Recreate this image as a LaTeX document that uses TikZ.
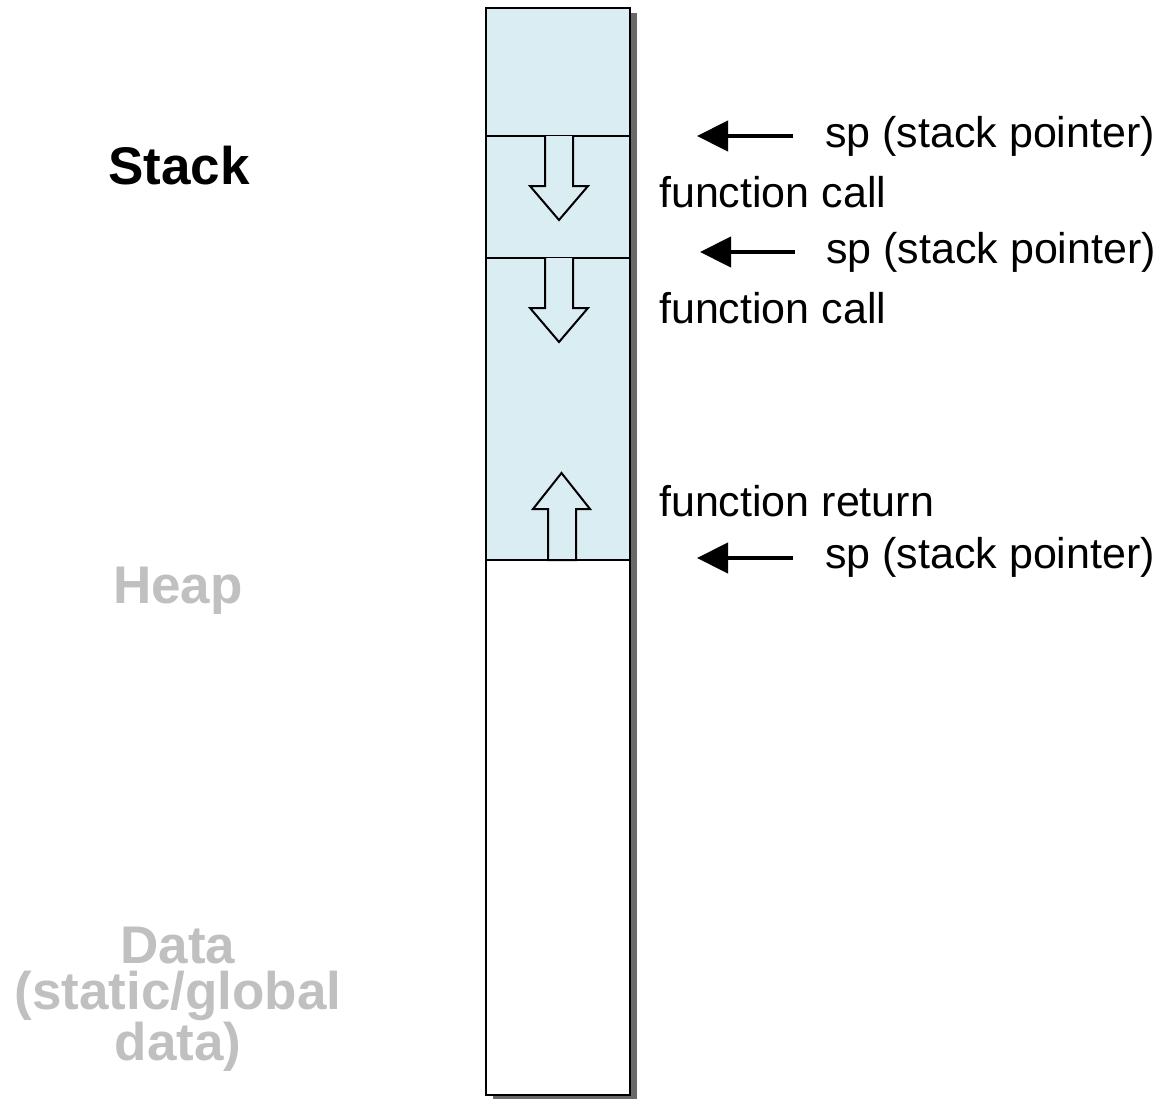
\documentclass[tikz,border=0pt]{standalone}
\usepackage{fontspec}
\setmainfont{Liberation Sans}
\usetikzlibrary{arrows.meta}
\definecolor{stackblue}{RGB}{218,237,243}
\definecolor{shadowgray}{RGB}{105,105,105}
\definecolor{labelgray}{RGB}{192,192,192}
\tikzset{
  big/.style={inner sep=0pt, font=\fontsize{53}{46}\selectfont\bfseries, align=center},
  small/.style={inner sep=0pt, anchor=base west, font=\fontsize{43}{46}\selectfont},
  ptr/.style={line width=4.5pt, -{Triangle[length=31pt,width=30pt]}},
  blockarrow/.style={draw=black, line width=2pt, fill=stackblue, line join=miter},
  border/.style={draw=black, line width=2pt}
}
\begin{document}
\begin{tikzpicture}[x=1pt,y=-1pt]
\useasboundingbox (0,0) rectangle (1158,1098);
% shadow
\fill[shadowgray] (493,13) rectangle (637,1099);
% column
\fill[white] (486,8) rectangle (630,1095);
\fill[stackblue] (486,8) rectangle (630,560);
\draw[border] (486,136) -- (630,136);
\draw[border] (486,258) -- (630,258);
\draw[border] (486,560) -- (630,560);
% block arrows
\draw[blockarrow] (545,136) -- (545,186) -- (530,186) -- (559,220) -- (588,186) -- (573,186) -- (573,136);
\draw[blockarrow] (545,258) -- (545,308) -- (530,308) -- (559,342) -- (588,308) -- (573,308) -- (573,258);
\draw[blockarrow] (548,560) -- (548,509) -- (533,509) -- (561.5,473) -- (590,509) -- (576,509) -- (576,560) -- cycle;
\draw[border] (486,8) rectangle (630,1095);
% left labels
\node[big, anchor=base] (stack) at (179,184) {Stack};
\node[big, anchor=base, text=labelgray] (heap) at (178,603) {Heap};
\node[big, anchor=north, text=labelgray] (data) at (178,927) {Data\\(static/global\\data)};
% right labels
\node[small] (sp1) at (825,147) {sp (stack pointer)};
\node[small] (fc1) at (659,207) {function call};
\node[small] (sp2) at (826,263) {sp (stack pointer)};
\node[small] (fc2) at (659,323) {function call};
\node[small] (fr) at (659,516) {function return};
\node[small] (sp3) at (825,568) {sp (stack pointer)};
% pointer arrows
\coordinate (a1) at (793,136); \coordinate (b1) at (697,136);
\coordinate (a2) at (795,252); \coordinate (b2) at (700,252);
\coordinate (a3) at (793,558); \coordinate (b3) at (697,558);
\draw[ptr] (a1) -- (b1);
\draw[ptr] (a2) -- (b2);
\draw[ptr] (a3) -- (b3);
\end{tikzpicture}
\end{document}
